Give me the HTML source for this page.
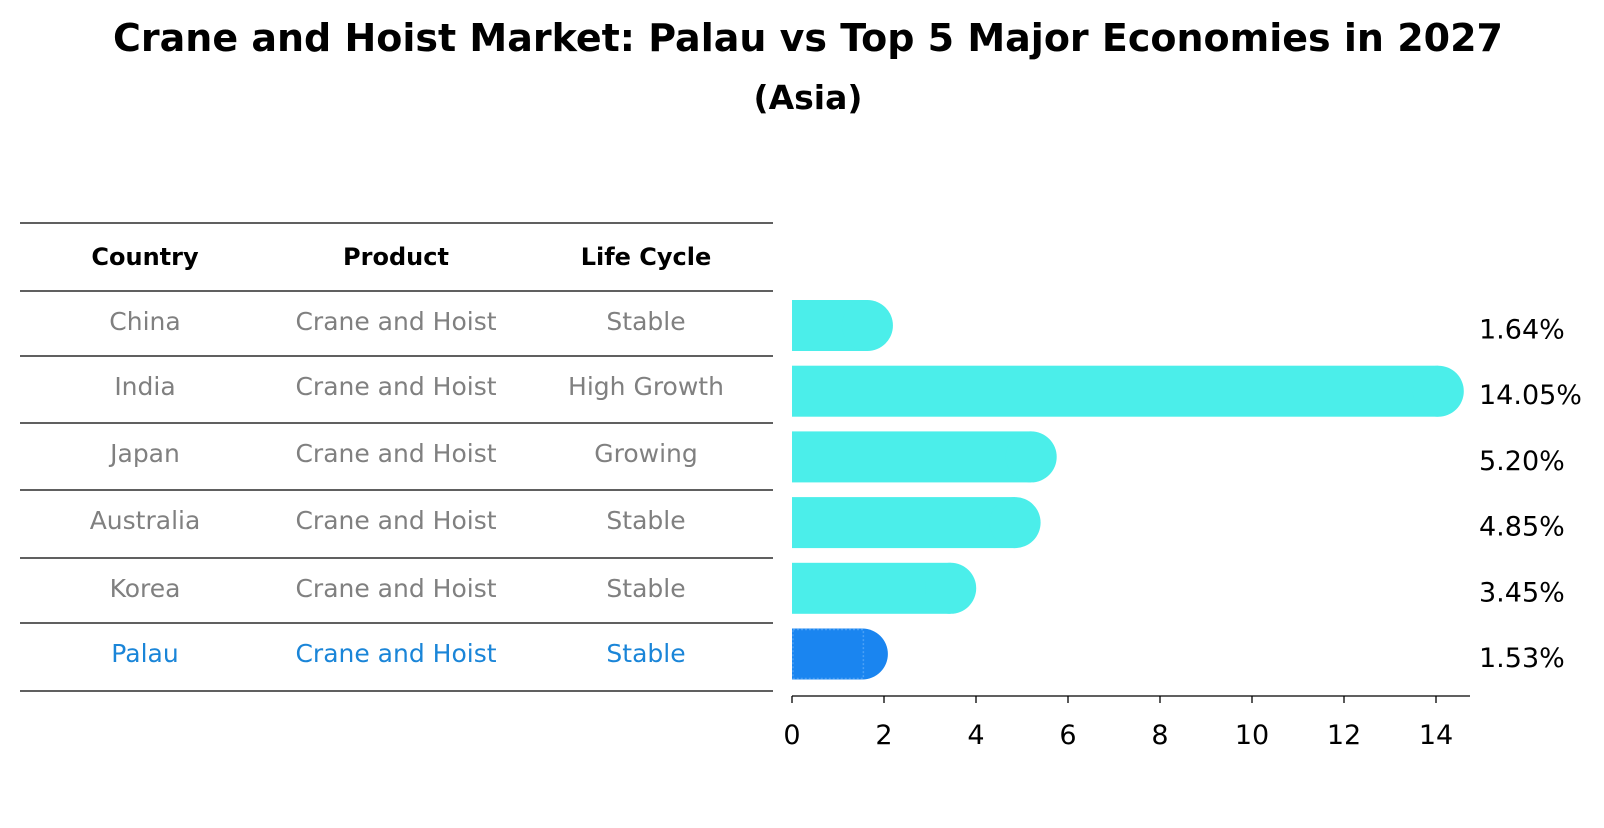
<!DOCTYPE html>
<html><head><meta charset="utf-8"><style>
body{margin:0;background:#fff;font-family:"Liberation Sans","DejaVu Sans",sans-serif}
svg text{font-family:"DejaVu Sans","Liberation Sans",sans-serif}
</style></head><body>
<svg id="c" width="1604" height="823" viewBox="0 0 1604 823" xmlns="http://www.w3.org/2000/svg">
<text x="808" y="51" text-anchor="middle" font-size="38" font-weight="bold">Crane and Hoist Market: Palau vs Top 5 Major Economies in 2027</text>
<text x="808" y="109" text-anchor="middle" font-size="33" font-weight="bold">(Asia)</text>
<g id="table"></g>
<g id="bars"></g>
</svg>
<script>
const countries=["China","India","Japan","Australia","Korea","Palau"];
const products=["Crane and Hoist","Crane and Hoist","Crane and Hoist","Crane and Hoist","Crane and Hoist","Crane and Hoist"];
const lifecycles=["Stable","High Growth","Growing","Stable","Stable","Stable"];
const values=[1.64,14.05,5.20,4.85,3.45,1.53];
const ticks=[0,2,4,6,8,10,12,14];
const NS="http://www.w3.org/2000/svg";
function mk(t,a,p){const e=document.createElementNS(NS,t);for(const k in a)e.setAttribute(k,a[k]);p.appendChild(e);return e;}
const X=v=>792+v*46.0;
const Y=i=>325.5+i*65.7;
const tb=document.getElementById('table'),bg=document.getElementById('bars');
const lines=[223,291,356,423,490,558,623,691];
lines.forEach((y,i)=>{const l=mk('line',{x1:20,x2:773,y1:y,y2:y,stroke:'#000','stroke-width':1.2},tb);

});
const cx=[145,396,646];
["Country","Product","Life Cycle"].forEach((h,j)=>{const t=mk('text',{x:cx[j],y:265,'text-anchor':'middle','font-size':24,'font-weight':'bold'},tb);t.textContent=h;

});
countries.forEach((c,i)=>{const col=c==="Palau"?"#1a85d8":"#808080";
[c,products[i],lifecycles[i]].forEach((s,j)=>{const t=mk('text',{x:cx[j],y:lines[i+1]+39,'text-anchor':'middle','font-size':25,fill:col},tb);t.textContent=s;

});
const pal=c==="Palau";const fill=pal?"#1a85f0":"#4beeea";
const g=mk('g',{},bg);


mk('rect',{x:X(0),y:Y(i)-25.5,width:X(values[i])-X(0),height:51,fill:fill},g);
mk('circle',{cx:X(values[i]),cy:Y(i),r:25.5,fill:fill},g);
if(pal){mk('rect',{x:X(0)+1,y:Y(i)-24.5,width:X(values[i])-X(0),height:49,fill:'none',stroke:'#4aa0f5','stroke-dasharray':'2 2','stroke-width':1.5},g);}
const lb=mk('text',{x:1479,y:Y(i)+13,'font-size':27},bg);lb.textContent=values[i].toFixed(2)+'%';

});
const ax=mk('line',{x1:792,x2:1470,y1:696,y2:696,stroke:'#000','stroke-width':1.3},bg);


ticks.forEach(v=>{const l=mk('line',{x1:X(v),x2:X(v),y1:696,y2:703,stroke:'#000','stroke-width':1.3},bg);


const t=mk('text',{x:X(v),y:744,'text-anchor':'middle','font-size':27},bg);t.textContent=v;

});
</script>
</body></html>
